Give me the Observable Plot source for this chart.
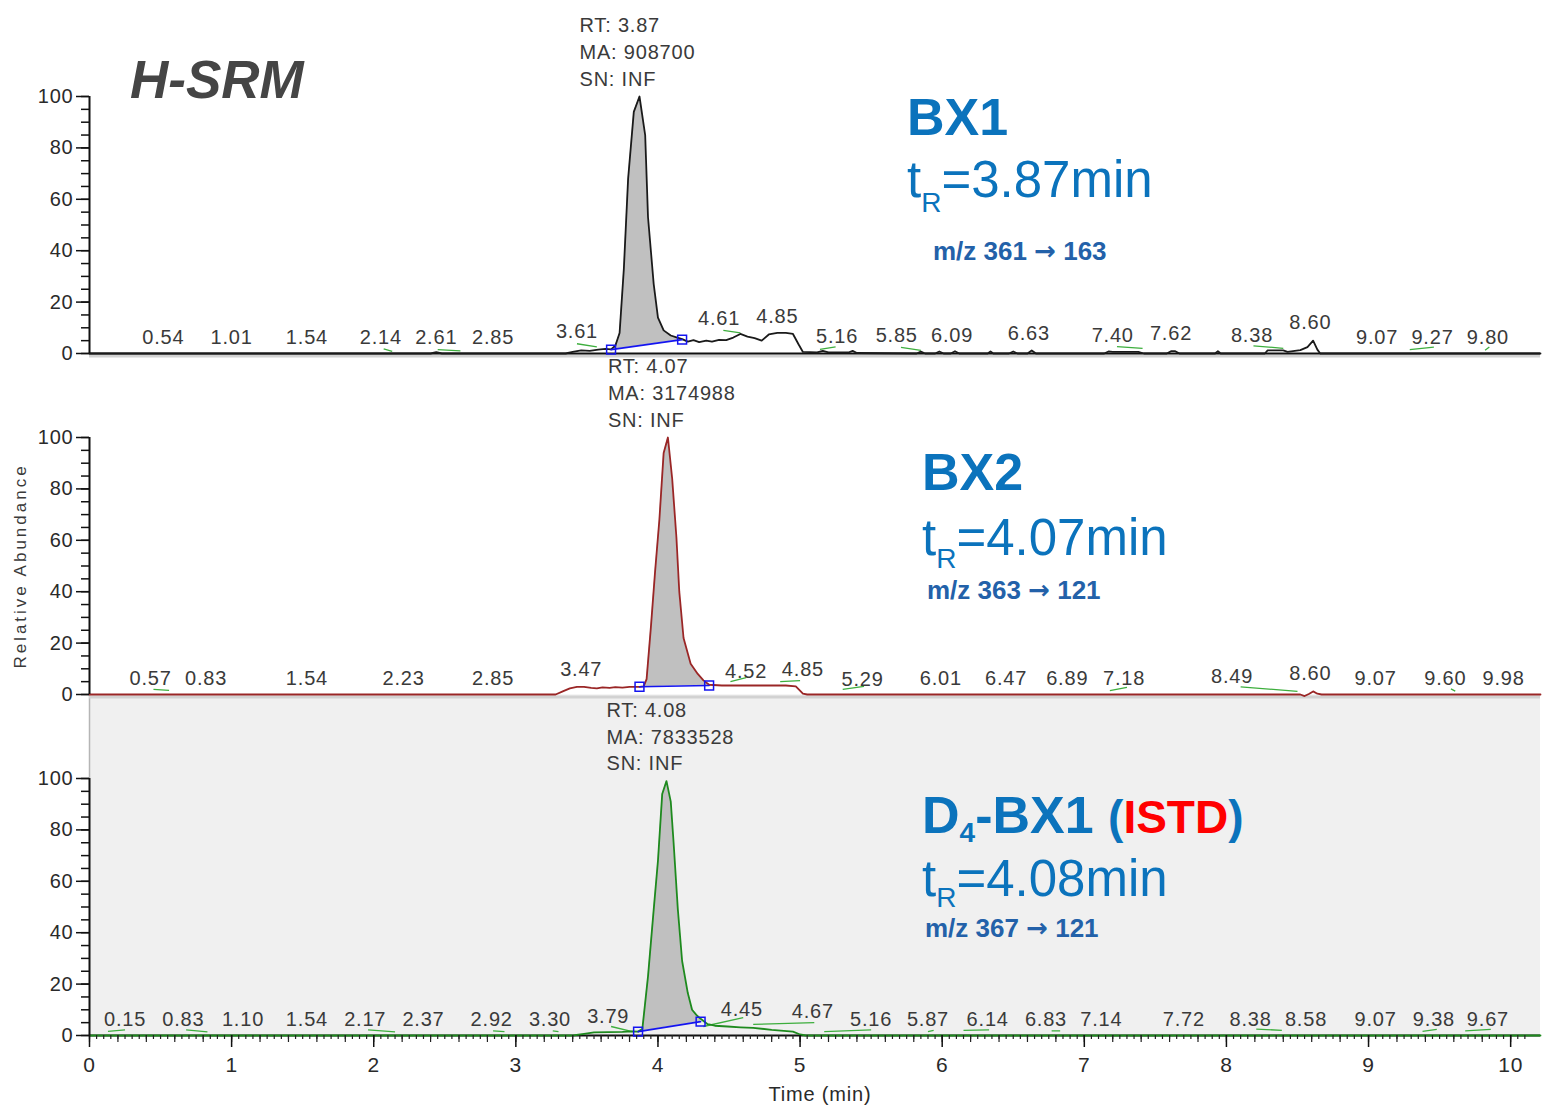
<!DOCTYPE html>
<html>
<head>
<meta charset="utf-8">
<script src="https://cdn.jsdelivr.net/npm/d3@7"></script>
<script src="https://cdn.jsdelivr.net/npm/@observablehq/plot@0.6"></script>
<style>
  body { margin: 0; background: #ffffff; }
  #chart { width: 1542px; height: 1106px; }
</style>
</head>
<body>
<div id="chart"></div>
<script>
// ---------------- DATA ----------------
const panels = ["BX1", "BX2", "D4-BX1"];
const xMax = 10.21;
const xTicks = [0, 1, 2, 3, 4, 5, 6, 7, 8, 9, 10];
const yTicks = [0, 20, 40, 60, 80, 100];

// chromatogram traces: [time (min), relative abundance]
const bx1Trace = [
  [0,0],[2.40,0],[2.44,0.5],[2.48,0],[3.35,0],[3.40,0.6],[3.46,1.2],[3.52,1.0],[3.58,1.5],[3.63,1.8],
  [3.67,1.6],[3.70,3],[3.73,8],[3.76,33],[3.79,68],[3.83,94],[3.87,100],[3.91,85],[3.93,53],[3.97,27],
  [4.00,14],[4.04,9],[4.09,7],[4.13,6.3],[4.17,5.6],[4.21,4.6],[4.25,5.2],[4.29,4.4],[4.34,5.0],[4.38,4.6],
  [4.43,5.3],[4.48,5.2],[4.53,6.2],[4.58,7.6],[4.63,6.6],[4.68,6.0],[4.73,5.0],[4.78,7.4],[4.84,8.0],[4.90,8.0],
  [4.95,7.6],[4.99,3.5],[5.02,0.6],[5.12,0.4],[5.16,1.0],[5.20,0.4],[5.34,0.4],[5.37,1.0],[5.40,0.2],[5.82,0],
  [5.85,0.7],[5.88,0],[5.95,0],[5.98,0.8],[6.01,0],[6.06,0],[6.09,0.9],[6.12,0],[6.32,0],[6.34,0.8],
  [6.36,0],[6.47,0],[6.50,0.8],[6.53,0],[6.60,0],[6.63,1.2],[6.66,0],[7.14,0],[7.17,0.8],[7.20,0.6],
  [7.38,0.6],[7.42,0],[7.58,0],[7.61,0.9],[7.64,0.9],[7.67,0],[7.92,0],[7.94,0.9],[7.96,0],[8.27,0],
  [8.29,1.2],[8.40,1.2],[8.43,0.6],[8.52,1.3],[8.57,2.5],[8.61,5],[8.64,1.5],[8.66,0],[10.21,0]
];
const bx2Trace = [
  [0,0],[3.28,0],[3.33,1.2],[3.38,2.4],[3.43,3.0],[3.48,3.0],[3.53,2.6],[3.57,2.4],[3.61,2.8],[3.66,2.6],
  [3.70,2.9],[3.75,2.7],[3.80,3.0],[3.87,3.0],[3.90,3.2],[3.92,6],[3.95,26],[3.98,48],[4.01,68],[4.04,94],
  [4.07,100],[4.10,84],[4.13,61],[4.15,40],[4.18,22],[4.23,12],[4.28,8],[4.32,5.5],[4.36,3.8],[4.45,3.5],
  [4.70,3.5],[4.90,3.5],[4.97,3.2],[5.02,0.3],[5.05,0],[8.52,0],[8.55,-0.6],[8.58,0.2],[8.61,1.2],[8.64,0.3],
  [8.67,0],[10.21,0]
];
const istdTrace = [
  [0,0],[3.40,0],[3.48,0.6],[3.55,1.2],[3.65,1.3],[3.75,1.4],[3.82,1.6],[3.86,1.5],[3.89,2.5],[3.93,23],
  [3.97,49],[4.00,68],[4.03,94],[4.06,99],[4.09,91],[4.11,75],[4.14,49],[4.17,29],[4.21,16.5],[4.24,10],
  [4.27,8],[4.30,6.5],[4.35,4.4],[4.40,3.8],[4.49,3.5],[4.58,3.2],[4.67,3.0],[4.80,2.2],[4.95,1.5],[5.00,0.4],
  [5.04,0],[10.21,0]
];

// integration baselines (blue): [[t start, level], [t end, level]]
const bx1Base = [[3.67, 1.5], [4.17, 5.4]];
const bx2Base = [[3.87, 3.0], [4.36, 3.5]];
const istdBase = [[3.86, 1.5], [4.30, 5.4]];

// small green integration marks: [t1, y1, t2, y2]
const bx1Green = [[2.07,1.8,2.13,0.8],[2.45,1.5,2.61,1.0],[3.43,3.8,3.57,2.6],[4.46,9.0,4.58,8.0],[5.14,1.6,5.25,2.6],
  [5.71,2.4,5.85,1.2],[7.23,2.7,7.41,2.0],[8.19,3.0,8.40,2.0],[9.29,1.5,9.46,2.5],[9.82,1.3,9.85,2.5]];
const bx2Green = [[0.45,2.0,0.56,1.6],[4.51,5.0,4.62,6.6],[4.86,5.0,5.00,5.4],[5.30,2.0,5.45,3.2],[7.18,1.5,7.30,2.8],
  [8.10,3.0,8.50,1.2],[9.58,2.2,9.61,1.3]];
const istdGreen = [[0.13,1.6,0.25,2.2],[0.68,2.2,0.83,1.4],[1.96,2.2,2.15,1.4],[2.84,1.8,2.92,1.5],[3.26,1.8,3.30,1.5],
  [3.67,3.5,3.82,1.5],[4.32,3.5,4.60,7.0],[4.67,4.3,5.10,5.0],[5.17,1.5,5.50,2.2],[5.90,1.5,5.94,2.0],
  [6.15,2.0,6.33,2.2],[6.77,1.8,6.83,1.8],[8.21,2.5,8.39,2.0],[9.38,1.6,9.48,2.4],[9.68,1.8,9.86,2.4]];

// retention-time labels: [text, position (min), height]
const bx1Labels = [["0.54",0.52,6.2],["1.01",1.00,6.2],["1.54",1.53,6.2],["2.14",2.05,6.2],["2.61",2.44,6.2],
  ["2.85",2.84,6.2],["3.61",3.43,8.5],["4.61",4.43,13.6],["4.85",4.84,14.3],["5.16",5.26,6.6],["5.85",5.68,6.8],
  ["6.09",6.07,6.8],["6.63",6.61,7.8],["7.40",7.20,7.0],["7.62",7.61,7.8],["8.38",8.18,7.0],["8.60",8.59,12.0],
  ["9.07",9.06,6.2],["9.27",9.45,6.2],["9.80",9.84,6.2]];
const bx2Labels = [["0.57",0.43,6.2],["0.83",0.82,6.2],["1.54",1.53,6.2],["2.23",2.21,6.2],["2.85",2.84,6.2],
  ["3.47",3.46,9.7],["4.52",4.62,8.9],["4.85",5.02,9.7],["5.29",5.44,5.8],["6.01",5.99,6.2],["6.47",6.45,6.2],
  ["6.89",6.88,6.2],["7.18",7.28,6.2],["8.49",8.04,7.0],["8.60",8.59,8.1],["9.07",9.05,6.2],["9.60",9.54,6.2],
  ["9.98",9.95,6.2]];
const istdLabels = [["0.15",0.25,6.2],["0.83",0.66,6.2],["1.10",1.08,6.2],["1.54",1.53,6.2],["2.17",1.94,6.2],
  ["2.37",2.35,6.2],["2.92",2.83,6.2],["3.30",3.24,6.2],["3.79",3.65,7.4],["4.45",4.59,10.0],["4.67",5.09,9.3],
  ["5.16",5.50,6.2],["5.87",5.90,6.2],["6.14",6.32,6.2],["6.83",6.73,6.2],["7.14",7.12,6.2],["7.72",7.70,6.2],
  ["8.38",8.17,6.2],["8.58",8.56,6.2],["9.07",9.05,6.2],["9.38",9.46,6.2],["9.67",9.84,6.2]];

// peak annotations: [panel, RT, apex, text lines]
const peakInfo = [
  ["BX1", 3.87, 100, "RT: 3.87\nMA: 908700\nSN: INF"],
  ["BX2", 4.07, 100, "RT: 4.07\nMA: 3174988\nSN: INF"],
  ["D4-BX1", 4.06, 99, "RT: 4.08\nMA: 7833528\nSN: INF"]
];

// compound names, retention times and transitions
const compoundNames = ["BX1", "BX2", "D4-BX1"];
const retentionTimes = ["3.87", "4.07", "4.08"];
const transitionFrom = ["m/z 361 ", "m/z 363 ", "m/z 367 "];
const transitionTo = [" 163", " 121", " 121"];

// ---------------- BUILD ----------------
const FONT = "'Liberation Sans', Arial, Helvetica, sans-serif";
const rows = (panel, arr) => arr.map(([t, v]) => ({panel, t, v}));
const areaRows = (panel, arr, base) => {
  const [[a, ya], [b, yb]] = base;
  return arr.filter(([t]) => t >= a - 1e-9 && t <= b + 1e-9)
            .map(([t, v]) => ({panel, t, v, base: ya + (yb - ya) * (t - a) / (b - a)}));
};
const baseRows = (panel, base) => base.map(([t, v]) => ({panel, t, v}));
const greenRows = (panel, arr) => arr.map(([t1, y1, t2, y2]) => ({panel, t1, y1, t2, y2}));
const labelRows = (panel, arr) => arr.map(([s, t, v]) => ({panel, s, t, v}));

const traces = [
  {panel: "BX1", data: bx1Trace, base: bx1Base, green: bx1Green, labels: bx1Labels, color: "#1a1a1a"},
  {panel: "BX2", data: bx2Trace, base: bx2Base, green: bx2Green, labels: bx2Labels, color: "#9a2626"},
  {panel: "D4-BX1", data: istdTrace, base: istdBase, green: istdGreen, labels: istdLabels, color: "#1e8a1e"}
];

const pxPerUnit = 258 / 100;   // facet band height / y domain
const gapPx = 84;               // gap between facets
const bgTop = 100 + gapPx / pxPerUnit;

const marks = [];
// grey background of the ISTD panel
marks.push(Plot.rect([{panel: "D4-BX1", x1: 0, x2: xMax, y1: 0, y2: bgTop}],
  {x1: "x1", x2: "x2", y1: "y1", y2: "y2", fy: "panel", fill: "#f0f0f0"}));
marks.push(Plot.ruleX([{panel: "D4-BX1", x: 0}], {x: "x", y1: 100, y2: bgTop, fy: "panel", stroke: "#b5b5b5", strokeWidth: 1.5}));

// light grey strip under baselines
marks.push(Plot.ruleY([{panel: "BX1", v: 0}, {panel: "BX2", v: 0}],
  {y: "v", fy: "panel", stroke: "#d2d2d2", strokeWidth: 3, dy: 2.5}));
// baseline rules
marks.push(Plot.ruleY([{panel: "BX1", v: 0}, {panel: "D4-BX1", v: 0}],
  {y: "v", fy: "panel", stroke: "#111", strokeWidth: 2}));

for (const tr of traces) {
  marks.push(Plot.link(greenRows(tr.panel, tr.green),
    {x1: "t1", y1: "y1", x2: "t2", y2: "y2", fy: "panel", stroke: "#3dae3d", strokeWidth: 1.3}));
  marks.push(Plot.areaY(areaRows(tr.panel, tr.data, tr.base),
    {x: "t", y1: "base", y2: "v", fy: "panel", fill: "#c0c0c0"}));
  marks.push(Plot.line(rows(tr.panel, tr.data),
    {x: "t", y: "v", fy: "panel", stroke: tr.color, strokeWidth: 1.8}));
  marks.push(Plot.line(baseRows(tr.panel, tr.base),
    {x: "t", y: "v", fy: "panel", stroke: "#1414f0", strokeWidth: 1.6}));
  marks.push(Plot.dot(baseRows(tr.panel, tr.base),
    {x: "t", y: "v", fy: "panel", symbol: "square", r: 5, stroke: "#1414f0", fill: "none", strokeWidth: 1.5}));
  marks.push(Plot.text(labelRows(tr.panel, tr.labels),
    {x: "t", y: "v", text: "s", fy: "panel", fontSize: 20, fill: "#3a3a3a"}));
}

// peak annotations
marks.push(Plot.text(peakInfo.map(([panel, t, v, s]) => ({panel, t, v, s})),
  {x: "t", y: "v", text: "s", fy: "panel", textAnchor: "start", lineAnchor: "top",
   fontSize: 20, lineHeight: 1.33, fill: "#3a3a3a", dx: -60, dy: -83}));

// y axes
marks.push(Plot.ruleX(panels.map(p => ({panel: p, x: 0})), {x: "x", y1: 0, y2: 100, fy: "panel", stroke: "#111", strokeWidth: 2}));
marks.push(Plot.axisY(d3.range(0, 101, 5), {tickSize: 8, text: null, label: null, stroke: "#111", strokeWidth: 1.5}));
marks.push(Plot.axisY(yTicks, {tickSize: 13, tickPadding: 3, fontSize: 20, label: null, stroke: "#111", strokeWidth: 1.5, fill: "#2a2a2a"}));

// x axis (bottom)
marks.push(Plot.axisX(d3.range(0, 203).map(i => i * 0.05), {tickSize: 4, text: null, label: null, stroke: "#222", strokeWidth: 1.2}));
marks.push(Plot.axisX(d3.range(0, 51).map(i => i * 0.2), {tickSize: 7, text: null, label: null, stroke: "#222", strokeWidth: 1.2}));
marks.push(Plot.axisX(xTicks, {tickSize: 12, tickPadding: 10, fontSize: 21, label: null, tickFormat: d3.format("d"),
  stroke: "#111", strokeWidth: 1.5, fill: "#2a2a2a"}));

// axis titles
marks.push(Plot.text([{panel: "D4-BX1", s: "Time (min)"}],
  {fy: "panel", text: "s", frameAnchor: "bottom", lineAnchor: "middle", dy: 59, dx: 5, fontSize: 20, fill: "#2a2a2a"}));
marks.push(Plot.text([{panel: "BX2", s: "Relative Abundance"}],
  {fy: "panel", text: "s", frameAnchor: "left", textAnchor: "middle", rotate: -90, dx: -69, fontSize: 17, fill: "#3a3a3a"}));

const chart = Plot.plot({
  width: 1542,
  height: 1106,
  marginLeft: 89,
  marginRight: 2,
  marginTop: 95,
  marginBottom: 70,
  style: {fontFamily: FONT, background: "#ffffff"},
  x: {domain: [0, xMax], axis: null},
  y: {domain: [0, 100], axis: null},
  fy: {domain: panels, axis: null, paddingInner: gapPx / (258 + gapPx), paddingOuter: 0},
  marks
});

// the instrument software spaces its small glyphs a little wider
const svg = d3.select(chart);
svg.selectAll("text").attr("letter-spacing", "0.8px");
svg.selectAll("text").filter(function () { return this.textContent === "Relative Abundance"; })
  .attr("letter-spacing", "3px");

// overlay headings with sub-scripts as SVG text
const g = svg.append("g").attr("font-family", FONT).attr("text-anchor", "start");
const BLUE = "#0b73bc", MZ = "#2361a9";

function rich(x, y, parts) {
  const t = g.append("text").attr("x", x).attr("y", y).attr("text-anchor", "start");
  let prev = 0;
  for (const p of parts) {
    const ts = t.append("tspan").text(p.s)
      .attr("font-size", p.size).attr("fill", p.fill || BLUE)
      .attr("font-weight", p.weight || "normal");
    if (p.family) ts.attr("font-family", p.family);
    const dy = (p.dy || 0) - prev;
    if (dy) ts.attr("dy", dy);
    prev = p.dy || 0;
  }
  return t;
}

g.append("text").attr("x", 130).attr("y", 98).attr("text-anchor", "start").text("H-SRM")
  .attr("font-size", 53).attr("font-weight", "bold").attr("font-style", "italic").attr("fill", "#454545");

const headPos = [
  {x: 907, name: 135, tr: 197, sub: 15, mzx: 933, mz: 260},
  {x: 922, name: 490, tr: 555, sub: 13, mzx: 927, mz: 599},
  {x: 922, name: 833, tr: 896, sub: 11, mzx: 925, mz: 937}
];
headPos.forEach((h, i) => {
  if (i < 2) {
    rich(h.x, h.name, [{s: compoundNames[i], size: 52, weight: "bold"}]);
  } else {
    rich(h.x, h.name, [
      {s: "D", size: 52, weight: "bold"},
      {s: "4", size: 28, weight: "bold", dy: 9},
      {s: "-BX1 ", size: 52, weight: "bold"},
      {s: "(", size: 46, weight: "bold"},
      {s: "ISTD", size: 46, weight: "bold", fill: "#ff0000"},
      {s: ")", size: 46, weight: "bold"}
    ]);
  }
  rich(h.x, h.tr, [
    {s: "t", size: 51},
    {s: "R", size: 28, dy: h.sub},
    {s: "=" + retentionTimes[i] + "min", size: 51}
  ]);
  rich(h.mzx, h.mz, [
    {s: transitionFrom[i], size: 26, weight: "bold", fill: MZ},
    {s: "\u2192", size: 26, weight: "bold", fill: MZ, family: "'DejaVu Sans', sans-serif"},
    {s: transitionTo[i], size: 26, weight: "bold", fill: MZ}
  ]);
});

document.getElementById("chart").appendChild(chart);
</script>
</body>
</html>
